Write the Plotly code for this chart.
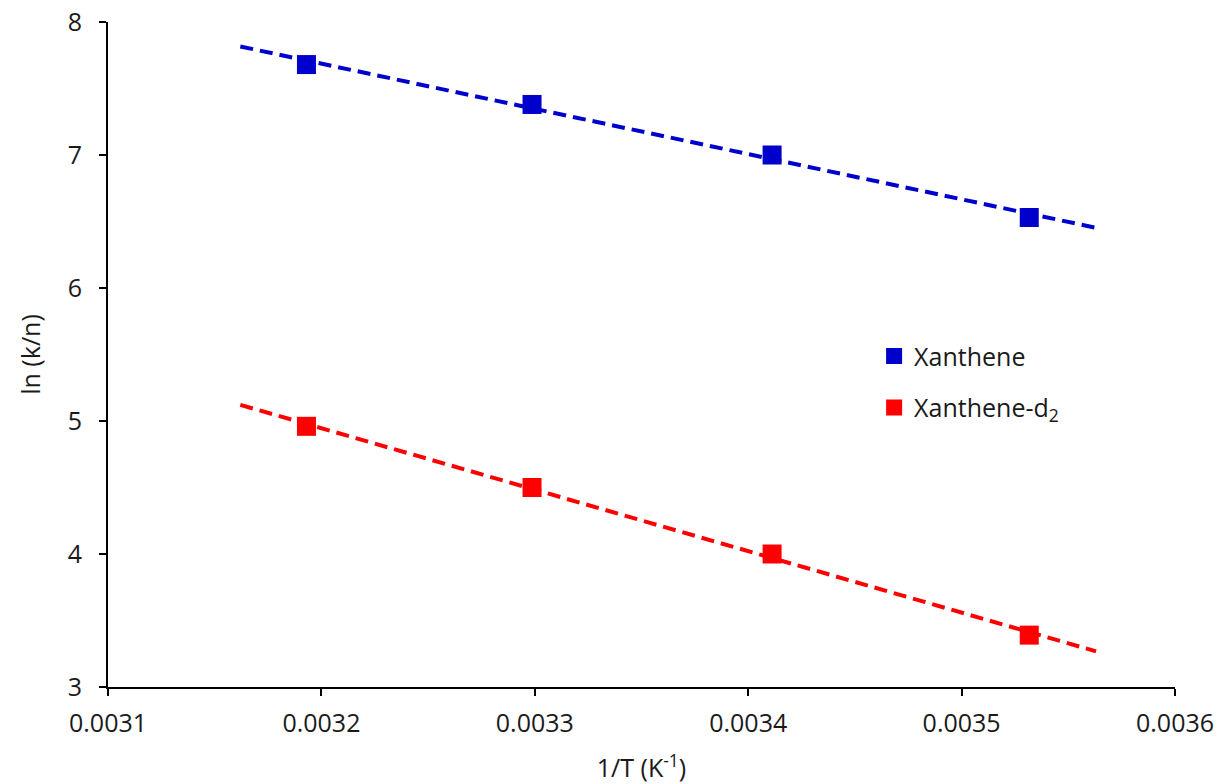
import numpy as np
import plotly.graph_objects as go

inv_T = [0.003193, 0.0032987, 0.0034112, 0.0035317]
ln_xanthene = [7.68, 7.38, 7.00, 6.53]
ln_xanthene_d2 = [4.96, 4.50, 4.00, 3.39]
trend_x_range = [0.003162, 0.003563]

blue = "#0000CC"
red = "#FF0000"

fig = go.Figure()

for yvals, color, name, grp in [(ln_xanthene, blue, "Xanthene", "a"),
                                (ln_xanthene_d2, red, "Xanthene-d<sub>2</sub>", "b")]:
    m, b = np.polyfit(inv_T, yvals, 1)
    tx = np.array(trend_x_range)
    fig.add_trace(go.Scatter(x=tx, y=m * tx + b, mode="lines",
                             line=dict(color=color, width=4, dash="13px,7px"),
                             showlegend=False, hoverinfo="skip"))
    fig.add_trace(go.Scatter(x=inv_T, y=yvals, mode="markers", name=name,
                             legendgroup=grp,
                             marker=dict(symbol="square", size=19, color=color)))

fam = "Open Sans"
fs = 25
tfont = dict(family=fam, size=fs, color="#1a1a1a")

fig.update_layout(
    width=1221, height=784,
    margin=dict(l=108, r=46, t=22, b=97),
    paper_bgcolor="white", plot_bgcolor="white",
    font=dict(family=fam, size=fs, color="#1a1a1a"),
    legend=dict(x=0.718, y=0.532, xanchor="left", yanchor="top",
                bgcolor="rgba(0,0,0,0)", font=dict(family=fam, size=fs, color="#1a1a1a"),
                traceorder="grouped", tracegroupgap=16, itemwidth=30),
    xaxis=dict(range=[0.0031, 0.0036], dtick=0.0001, tickformat=".4f",
               showgrid=False, zeroline=False, showline=True, linecolor="black",
               linewidth=2, ticks="outside", ticklen=7, tickwidth=2, tickcolor="black",
               tickfont=tfont, ticklabelstandoff=6, automargin=False,
               title=dict(text="1/T (K<sup>-1</sup>)", standoff=22, font=tfont)),
    yaxis=dict(range=[3, 8], dtick=1, showgrid=False, zeroline=False, showline=True,
               linecolor="black", linewidth=2, ticks="outside", ticklen=7, tickwidth=2,
               tickcolor="black", tickfont=tfont, ticklabelstandoff=12, automargin=False,
               title=dict(text="ln (k/n)", standoff=20, font=tfont)),
)

fig.write_html("out.html")
